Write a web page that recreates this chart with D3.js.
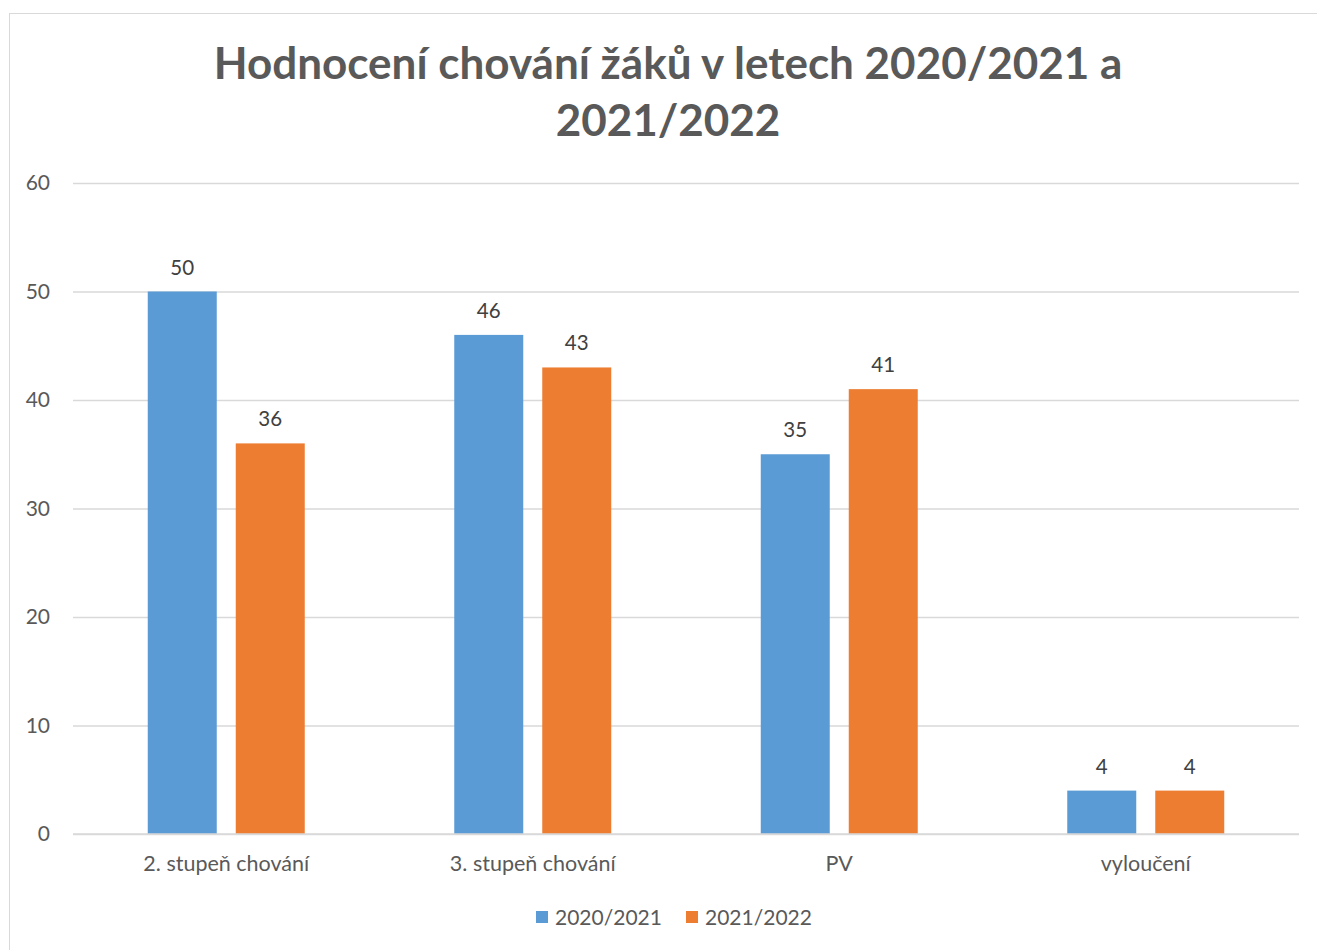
<!DOCTYPE html>
<html><head><meta charset="utf-8">
<script src="https://cdn.jsdelivr.net/npm/d3@7"></script>
<style>body{margin:0;background:#fff}svg{display:block}</style>
</head><body>
<script>
const categories = ["2. stupeň chování", "3. stupeň chování", "PV", "vyloučení"];
const seriesNames = ["2020/2021", "2021/2022"];
const values2020 = [50, 46, 35, 4];
const values2021 = [36, 43, 41, 4];
const yTicks = [0, 10, 20, 30, 40, 50, 60];
const colors = ["#5B9BD5", "#ED7D31"];
const titleLines = ["Hodnocení chování žáků v letech 2020/2021 a", "2021/2022"];

const W = 1317, H = 950;
const svg = d3.select("body").append("svg").attr("width", W).attr("height", H);
const font = "Lato, 'Open Sans', sans-serif";

svg.append("rect").attr("x", 9.5).attr("y", 13.5).attr("width", 1310).attr("height", 950)
  .attr("fill", "#fff").attr("stroke", "#d9d9d9").attr("stroke-width", 1);

const pLeft = 73, pRight = 1299, pTop = 183, pBottom = 834;
const x = d3.scaleBand().domain(categories).range([pLeft, pRight]);
const y = d3.scaleLinear().domain([0, 60]).range([pBottom, pTop]);

// title
svg.append("g").selectAll("text").data(titleLines).join("text")
  .attr("x", 668).attr("y", (d, i) => 79 + i * 57)
  .attr("text-anchor", "middle").attr("font-family", font).attr("font-weight", "bold")
  .attr("font-size", 44).attr("fill", "#595959").text(d => d);

// gridlines
const yAxis = d3.axisLeft(y).tickValues(yTicks).tickSize(-(pRight - pLeft)).tickPadding(23);
const gy = svg.append("g").attr("transform", `translate(${pLeft},0)`).call(yAxis);
gy.select(".domain").remove();
gy.selectAll(".tick line").attr("stroke", "#d9d9d9").attr("stroke-width", 1.3);
gy.selectAll(".tick text").attr("font-family", font).attr("font-size", 21).attr("fill", "#595959");

// x axis labels
const xAxis = d3.axisBottom(x).tickSize(0).tickPadding(22);
const gx = svg.append("g").attr("transform", `translate(0,${pBottom})`).call(xAxis);
gx.select(".domain").remove();
gx.selectAll(".tick text").attr("font-family", font).attr("font-size", 21.5).attr("fill", "#595959");

const data = categories.map((c, i) => ({ c, v: [values2020[i], values2021[i]] }));
const bw = x.bandwidth();
const groupW = 157;
const x1 = d3.scaleBand().domain([0, 1])
  .range([(bw - groupW) / 2, (bw + groupW) / 2]).paddingInner(19 / 88).paddingOuter(0);

const groups = svg.append("g").selectAll("g").data(data).join("g")
  .attr("transform", d => `translate(${x(d.c)},0)`);
groups.selectAll("rect").data(d => d.v).join("rect")
  .attr("x", (d, i) => x1(i)).attr("width", x1.bandwidth())
  .attr("y", d => y(d)).attr("height", d => pBottom - y(d))
  .attr("fill", (d, i) => colors[i]);
groups.selectAll("text").data(d => d.v).join("text")
  .attr("x", (d, i) => x1(i) + x1.bandwidth() / 2).attr("y", d => y(d) - 17)
  .attr("text-anchor", "middle").attr("font-family", font).attr("font-size", 20.5)
  .attr("fill", "#404040").text(d => d);

// baseline on top
svg.append("line").attr("x1", pLeft).attr("x2", pRight).attr("y1", pBottom).attr("y2", pBottom)
  .attr("stroke", "#d9d9d9").attr("stroke-width", 1.3);

// legend
const legend = svg.append("g");
const legX = [536, 686];
seriesNames.forEach((s, i) => {
  legend.append("rect").attr("x", legX[i]).attr("y", 911).attr("width", 12).attr("height", 12).attr("fill", colors[i]);
  legend.append("text").attr("x", legX[i] + 19).attr("y", 925).attr("font-family", font)
    .attr("font-size", 21).attr("fill", "#595959").text(s);
});
</script>
</body></html>
